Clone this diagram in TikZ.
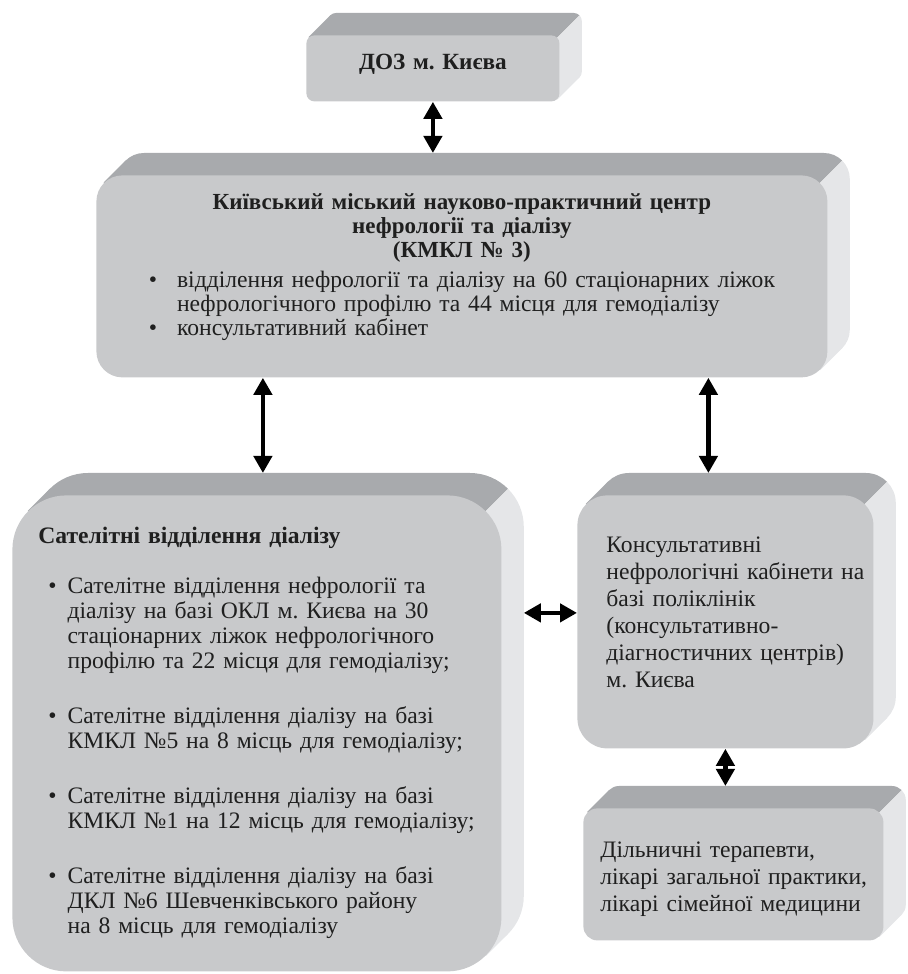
\documentclass[tikz,border=0pt]{standalone}
\usepackage{fontspec}
\setmainfont{Liberation Serif}
\usetikzlibrary{arrows.meta,calc,backgrounds}

\definecolor{FaceGray}{HTML}{C8C9CB}
\definecolor{TopGray}{HTML}{A8AAAD}
\definecolor{SideGray}{HTML}{E5E6E8}

% back and top of a box, drawn behind node #1 (corner radius #2)
\newcommand{\slabpath}[3]{%
  \fill[#3,rounded corners=#2] ([shift={(11pt,11pt)}]#1.south west) rectangle ([shift={(11pt,11pt)}]#1.north east);
  \fill[#3] ($(#1.north west)+(0.293*#2,-0.293*#2)$) -- ++(11pt,11pt)
    -- ($(#1.south east)+(-0.293*#2,0.293*#2)+(11pt,11pt)$) -- ++(-11pt,-11pt) -- cycle;}
\newcommand{\slab}[2]{%
  \coordinate (#1-top) at ([yshift=11pt]#1.north);
  \coordinate (#1-right) at ([xshift=11pt]#1.east);
  \coordinate (#1-p) at ($(#1.north east)+(-0.293*#2,-0.293*#2)$);
  \begin{scope}[on background layer]
    \begin{scope}
      \clip (#1-p) ++(-600pt,-600pt) -- ++(1200pt,1200pt) -- ++(-1200pt,0pt) -- cycle;
      \slabpath{#1}{#2}{TopGray}
    \end{scope}
    \begin{scope}
      \clip (#1-p) ++(-600pt,-600pt) -- ++(1200pt,1200pt) -- ++(0pt,-1200pt) -- cycle;
      \slabpath{#1}{#2}{SideGray}
    \end{scope}
  \end{scope}}
\newcommand{\lift}[1]{\rule[-#1]{0pt}{0pt}}

\tikzset{
  face/.style={fill=FaceGray, anchor=north west, inner ysep=0pt, align=left, text=black!88},
  link/.style={{Triangle[length=8.5pt,width=9pt]}-{Triangle[length=8.5pt,width=9pt]}, line width=2.3pt},
}

\begin{document}
\frenchspacing
\begin{tikzpicture}[x=0.5pt,y=0.5pt]
\useasboundingbox (0,0) rectangle (908,974);

\node[face, minimum width=126.5pt, minimum height=33pt, text width=126.5pt, inner xsep=0pt,
  align=center, rounded corners=4pt, font=\fontsize{11.6}{14}\selectfont\bfseries] (A) at (306,939) {ДОЗ м. Києва\lift{7pt}};

\node[face, minimum width=365.5pt, minimum height=101pt, text width=345.5pt, inner xsep=10pt,
  align=center, rounded corners=13pt, font=\fontsize{11.8}{12}\selectfont] (B) at (96,799) {%
{\fontsize{11.5}{12}\selectfont\textbf{Київський міський науково-практичний центр}}\\
{\fontsize{11.5}{12}\selectfont\textbf{нефрології та діалізу}}\\
{\fontsize{11.5}{12}\selectfont\textbf{(КМКЛ № 3)}}\\[3pt]
\begin{tabular}{@{}l@{\hspace{10pt}}l@{}}
\textbullet & відділення нефрології та діалізу на 60 стаціонарних ліжок\\
 & нефрологічного профілю та 44 місця для гемодіалізу\\
\textbullet & консультативний кабінет\lift{12pt}
\end{tabular}};

\node[face, minimum width=244.5pt, minimum height=238pt, text width=218.5pt, inner xsep=13pt,
  rounded corners=27pt, font=\fontsize{11.8}{12.5}\selectfont] (C) at (12,479) {%
\begin{tabular}{@{}l@{\hspace{5.5pt}}l@{}}
\multicolumn{2}{@{}l@{}}{\textbf{Сателітні відділення діалізу}}\\[12.5pt]
\hspace{5pt}\textbullet & Сателітне відділення нефрології та\\
 & діалізу на базі ОКЛ м. Києва на 30\\
 & стаціонарних ліжок нефрологічного\\
 & профілю та 22 місця для гемодіалізу;\\[15pt]
\hspace{5pt}\textbullet & Сателітне відділення діалізу на базі\\
 & КМКЛ №5 на 8 місць для гемодіалізу;\\[15pt]
\hspace{5pt}\textbullet & Сателітне відділення діалізу на базі\\
 & КМКЛ №1 на 12 місць для гемодіалізу;\\[15pt]
\hspace{5pt}\textbullet & Сателітне відділення діалізу на базі\\
 & ДКЛ №6 Шевченківського району\\
 & на 8 місць для гемодіалізу
\end{tabular}};

\node[face, minimum width=148pt, minimum height=126.5pt, text width=119pt, inner xsep=14.5pt,
  rounded corners=15pt, font=\fontsize{11.8}{13.5}\selectfont] (D) at (577,479) {%
\begin{tabular}{@{}l@{}}
Консультативні\\
нефрологічні кабінети на\\
базі поліклінік\\
(консультативно-\\
діагностичних центрів)\\
м. Києва\lift{11pt}
\end{tabular}};

\node[face, minimum width=150pt, minimum height=66pt, text width=133pt, inner xsep=8.5pt,
  rounded corners=7pt, font=\fontsize{11.8}{13.5}\selectfont] (E) at (583,166) {%
\begin{tabular}{@{}l@{}}
\rule{0pt}{14pt}Дільничні терапевти,\\
лікарі загальної практики,\\
лікарі сімейної медицини
\end{tabular}};

\slab{A}{4pt}
\slab{B}{13pt}
\slab{C}{27pt}
\slab{D}{15pt}
\slab{E}{7pt}

\draw[link] (A.south) -- (A.south |- B-top);
\draw[link] ([xshift=3pt]C-top |- B.south) -- ([xshift=3pt]C-top);
\draw[link] ([xshift=-8.5pt]D-top |- B.south) -- ([xshift=-8.5pt]D-top);
\draw[link] ([yshift=4.5pt]C-right |- D.west) -- ([yshift=4.5pt]D.west);
\draw[link] (D.south) -- (D.south |- E-top);
\end{tikzpicture}
\end{document}
